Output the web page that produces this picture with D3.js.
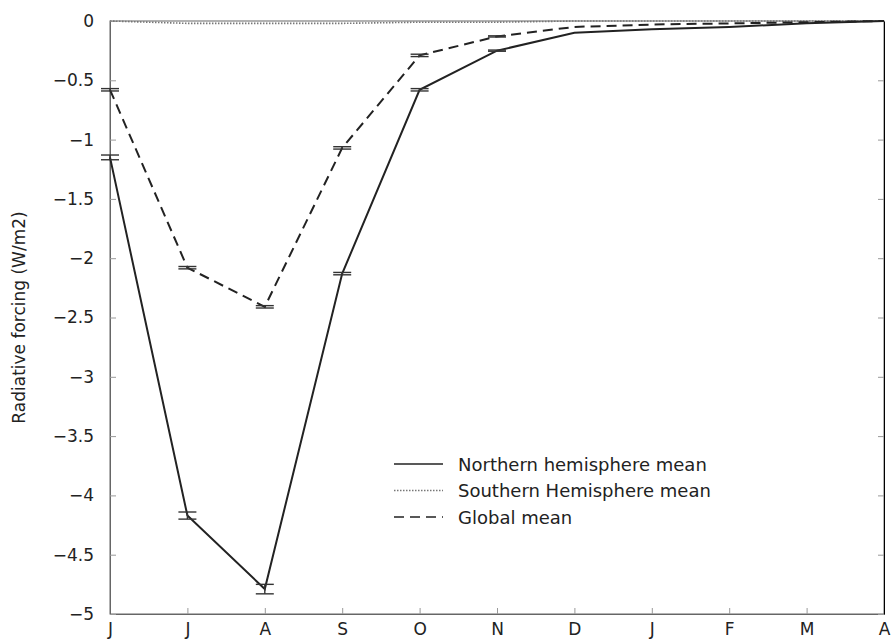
<!DOCTYPE html>
<html>
<head>
<meta charset="utf-8">
<script src="https://cdn.jsdelivr.net/npm/d3@7"></script>
<style>
    body { margin: 0; background: #fff; }
    text { font-family: "DejaVu Sans", sans-serif; fill: #222; }
</style>
</head>
<body>
<div class="svg-container"></div>
<script>
// Data
const months = ["J", "J", "A", "S", "O", "N", "D", "J", "F", "M", "A"];
const seriesNames = ["Northern hemisphere mean", "Southern Hemisphere mean", "Global mean"];
const northMean = [-1.15, -4.17, -4.79, -2.13, -0.58, -0.25, -0.10, -0.07, -0.05, -0.02, 0];
const northErr = [0.02, 0.03, 0.04, 0.01, 0.01, 0.005, 0, 0, 0, 0, 0];
const southMean = [0, -0.02, -0.02, -0.02, -0.01, -0.01, 0, 0, 0, 0, 0];
const globalMean = [-0.58, -2.08, -2.41, -1.07, -0.29, -0.13, -0.05, -0.03, -0.02, -0.01, 0];
const globalErr = [0.01, 0.01, 0.01, 0.01, 0.01, 0.005, 0, 0, 0, 0, 0];
const yTicks = [0, -0.5, -1, -1.5, -2, -2.5, -3, -3.5, -4, -4.5, -5];

// Layout
const width = 891;
const height = 640;
const margin = { top: 21, right: 7, bottom: 26, left: 110 };

const svg = d3.select(".svg-container")
    .append("svg")
    .attr("width", width)
    .attr("height", height);

// Scales
const xScale = d3.scaleLinear()
    .domain([0, months.length - 1])
    .range([margin.left, width - margin.right]);
const yScale = d3.scaleLinear()
    .domain([-5, 0])
    .range([height - margin.bottom, margin.top]);

const fmt = (d) => (d === 0 ? "0" : "\u2212" + Math.abs(d));

// Box
svg.append("rect")
    .attr("x", xScale(0))
    .attr("y", yScale(0))
    .attr("width", xScale(months.length - 1) - xScale(0))
    .attr("height", yScale(-5) - yScale(0))
    .attr("fill", "none")
    .attr("stroke", "#666")
    .attr("stroke-width", 1);

// Axes (ticks inward)
const xAxis = d3.axisBottom(xScale)
    .tickValues(d3.range(months.length))
    .tickFormat((d) => months[d])
    .tickSizeInner(-6)
    .tickSizeOuter(0)
    .tickPadding(9);
const yAxis = d3.axisLeft(yScale)
    .tickValues(yTicks)
    .tickFormat(fmt)
    .tickSizeInner(-6)
    .tickSizeOuter(0)
    .tickPadding(16);

const gx = svg.append("g")
    .attr("transform", `translate(0, ${yScale(-5)})`)
    .call(xAxis);
const gy = svg.append("g")
    .attr("transform", `translate(${xScale(0)}, 0)`)
    .call(yAxis);

// Right axis ticks
svg.append("g")
    .attr("transform", `translate(${xScale(months.length - 1)}, 0)`)
    .call(d3.axisRight(yScale).tickValues(yTicks).tickFormat("").tickSizeInner(-6).tickSizeOuter(0));

[gx, gy].forEach((g) => {
    g.select(".domain").attr("stroke", "#666");
    g.selectAll(".tick text")
        .style("font-family", "'DejaVu Sans', sans-serif")
        .style("font-size", "17px")
        .attr("fill", "#222");
});
svg.selectAll(".tick line").attr("stroke", "#999");

// Y label
svg.append("text")
    .attr("transform", `translate(25, ${(yScale(0) + yScale(-5)) / 2}) rotate(-90)`)
    .attr("text-anchor", "middle")
    .style("font-size", "17px")
    .text("Radiative forcing (W/m2)");

// Lines
const line = d3.line()
    .x((d, i) => xScale(i))
    .y((d) => yScale(d));

svg.append("path")
    .datum(southMean)
    .attr("d", line)
    .attr("fill", "none")
    .attr("stroke", "#777")
    .attr("stroke-width", 1.6)
    .attr("stroke-dasharray", "1.5,1.5");

svg.append("path")
    .datum(globalMean)
    .attr("d", line)
    .attr("fill", "none")
    .attr("stroke", "#222")
    .attr("stroke-width", 2)
    .attr("stroke-dasharray", "10,6");

svg.append("path")
    .datum(northMean)
    .attr("d", line)
    .attr("fill", "none")
    .attr("stroke", "#222")
    .attr("stroke-width", 2);

// Error bars
function errorBars(values, errs) {
    const g = svg.append("g").attr("stroke", "#333").attr("stroke-width", 1.4);
    values.forEach((v, i) => {
        const e = errs[i];
        if (!e) return;
        const x = xScale(i);
        g.append("line")
            .attr("x1", x).attr("x2", x)
            .attr("y1", yScale(v + e)).attr("y2", yScale(v - e));
        [v + e, v - e].forEach((c) => {
            g.append("line")
                .attr("x1", x - 9).attr("x2", x + 9)
                .attr("y1", yScale(c)).attr("y2", yScale(c));
        });
    });
}
errorBars(northMean, northErr);
errorBars(globalMean, globalErr);

// Legend
const legendStyles = [
    { stroke: "#222", dash: null, width: 1.6 },
    { stroke: "#777", dash: "1.5,1.5", width: 1.6 },
    { stroke: "#222", dash: "10,6", width: 1.6 }
];
const legend = svg.append("g").attr("transform", "translate(394, 464)");
seriesNames.forEach((name, i) => {
    const row = legend.append("g").attr("transform", `translate(0, ${i * 26.5})`);
    row.append("line")
        .attr("x1", 0).attr("x2", 49)
        .attr("y1", 0).attr("y2", 0)
        .attr("stroke", legendStyles[i].stroke)
        .attr("stroke-width", legendStyles[i].width)
        .attr("stroke-dasharray", legendStyles[i].dash);
    row.append("text")
        .attr("x", 64)
        .attr("y", 6.5)
        .style("font-size", "18px")
        .text(name);
});
</script>
</body>
</html>
